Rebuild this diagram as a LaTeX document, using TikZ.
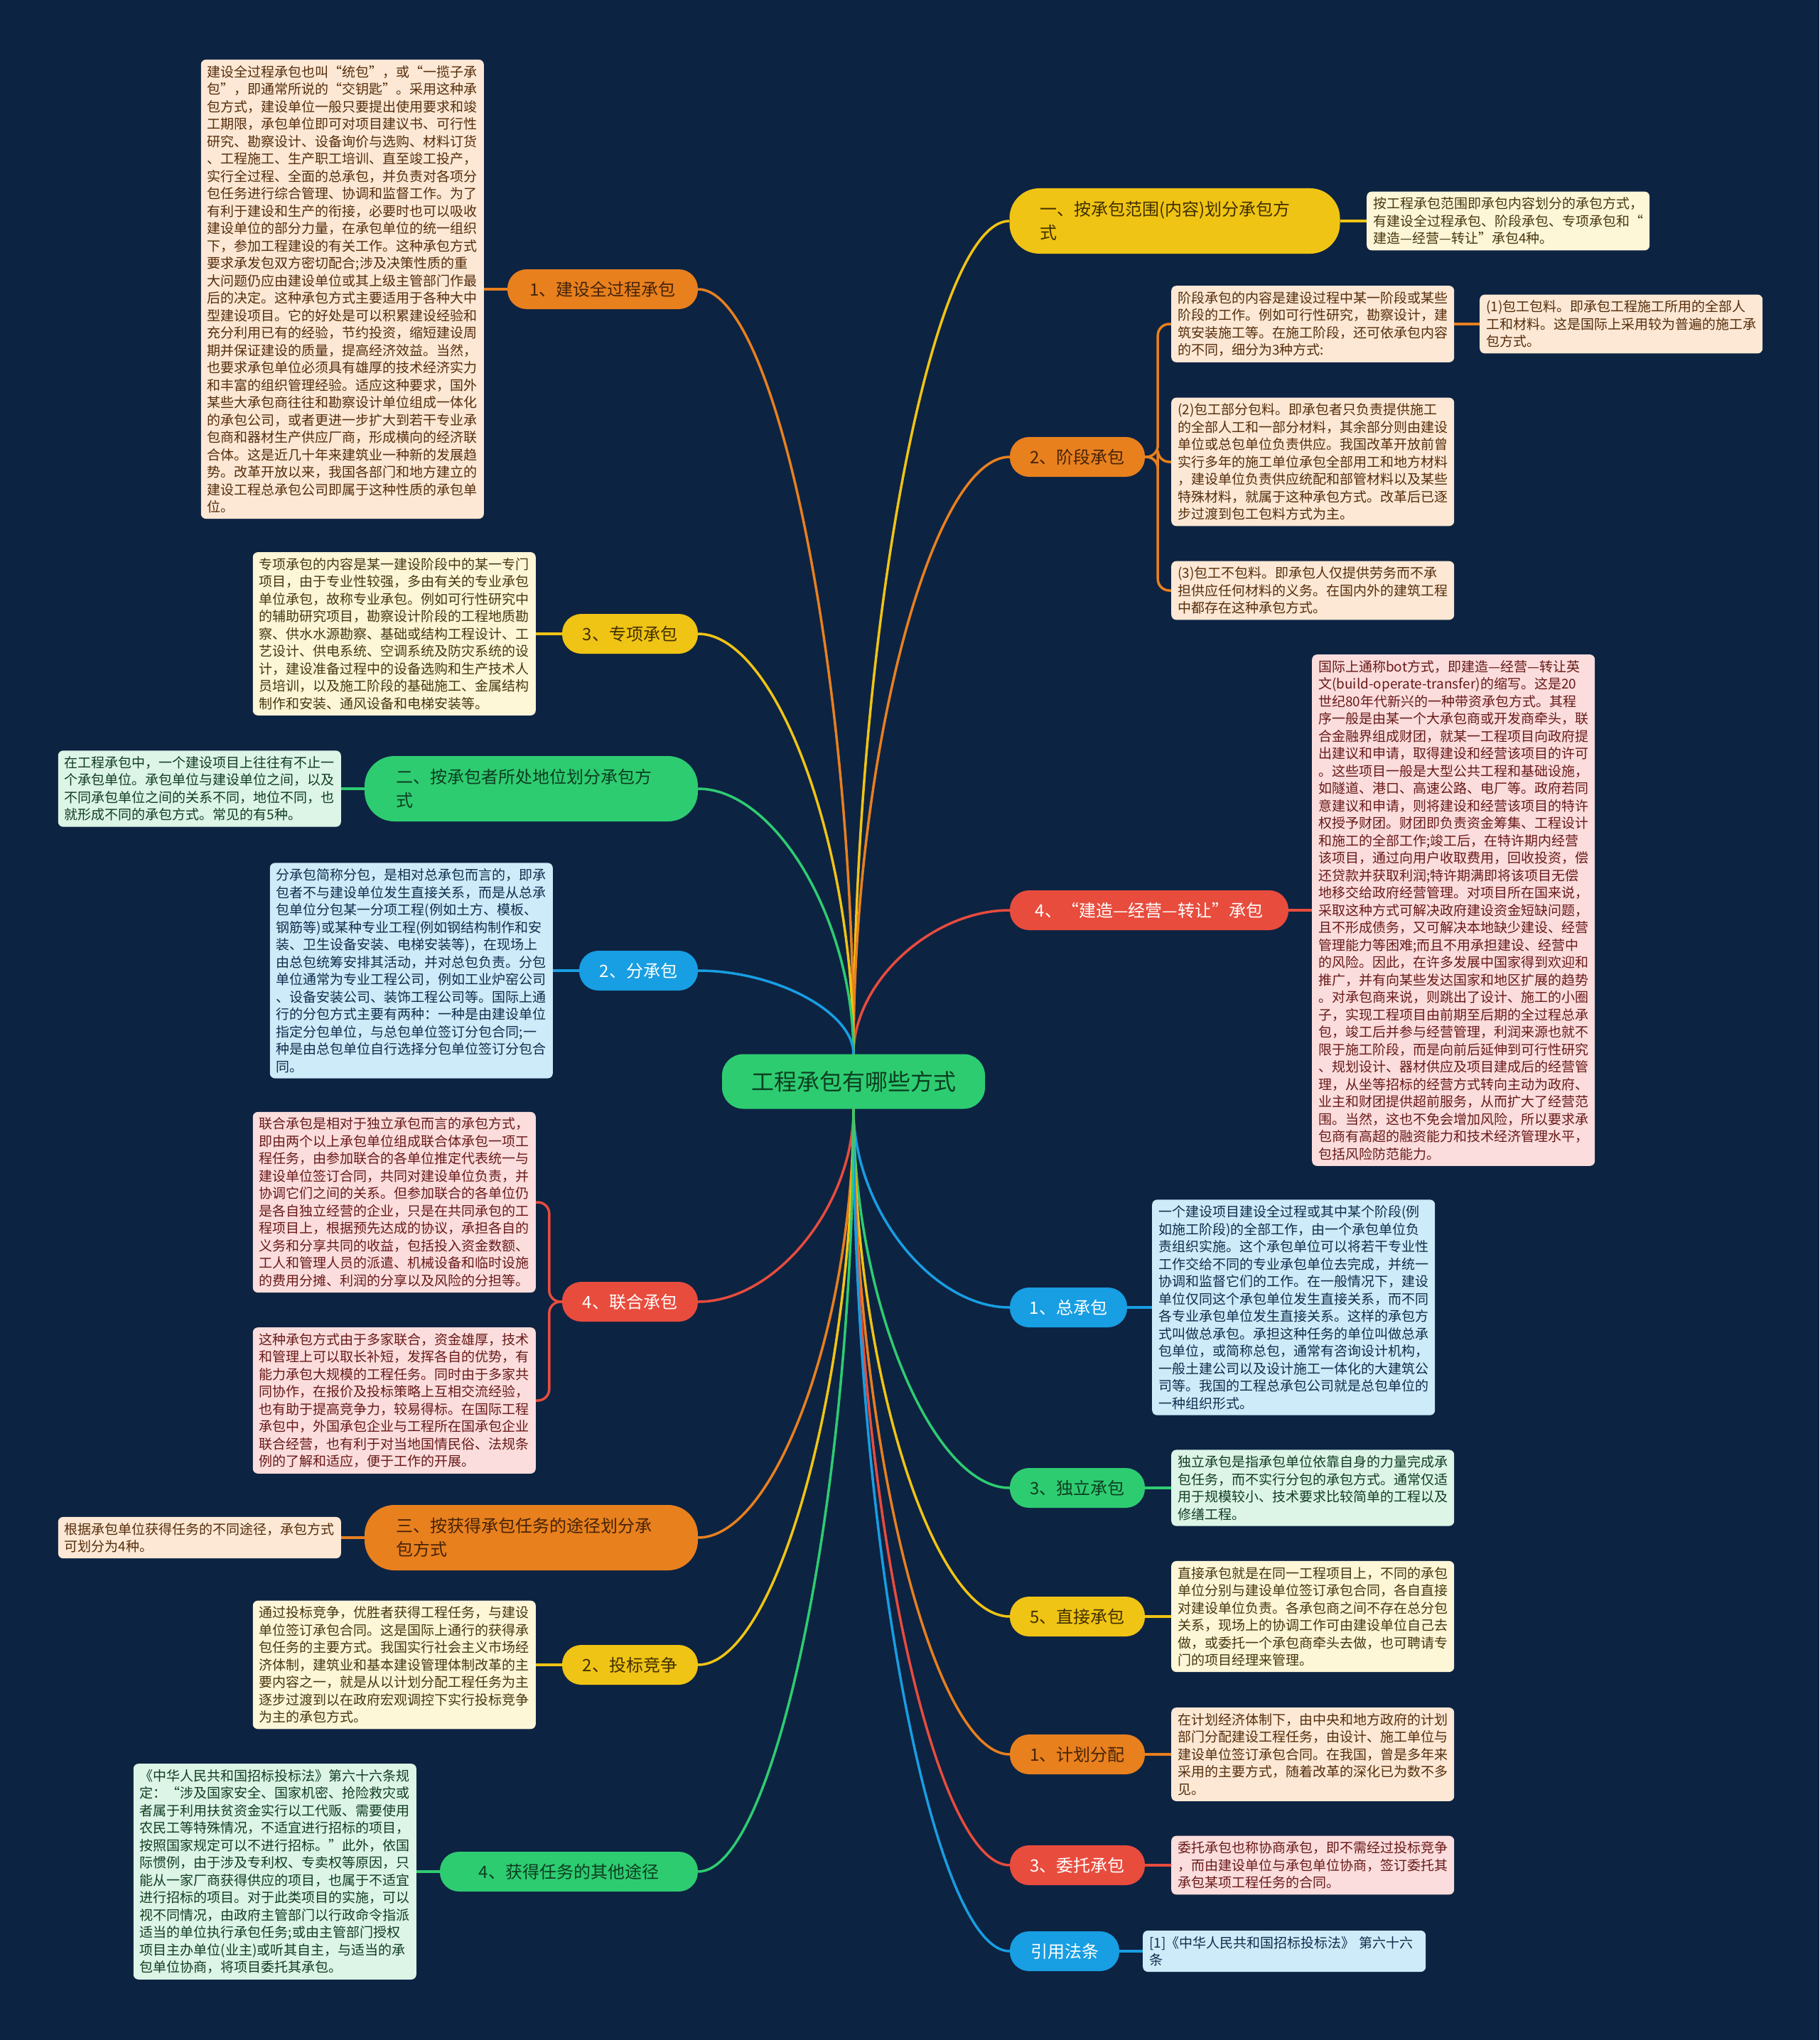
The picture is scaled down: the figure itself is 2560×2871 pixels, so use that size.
\documentclass[tikz,border=0pt]{standalone}
\usepackage{fontspec}
\setmainfont{Noto Sans CJK SC}
\usetikzlibrary{calc}
\definecolor{bgc}{RGB}{13,35,66}
\definecolor{ocol}{RGB}{232,128,30}
\definecolor{ycol}{RGB}{240,196,20}
\definecolor{gcol}{RGB}{46,204,113}
\definecolor{bcol}{RGB}{24,158,226}
\definecolor{rcol}{RGB}{232,76,61}
\definecolor{ofill}{RGB}{252,232,212}
\definecolor{yfill}{RGB}{253,246,215}
\definecolor{gfill}{RGB}{220,245,230}
\definecolor{bfill}{RGB}{205,235,248}
\definecolor{rfill}{RGB}{250,221,220}
\definecolor{otx}{RGB}{85,45,12}
\definecolor{ytx}{RGB}{70,55,15}
\definecolor{gtx}{RGB}{18,60,35}
\definecolor{btx}{RGB}{15,45,75}
\definecolor{rtx}{RGB}{105,25,25}
\definecolor{obtx}{RGB}{70,35,8}
\definecolor{ybtx}{RGB}{65,48,0}
\definecolor{gbtx}{RGB}{12,62,32}
\pgfdeclarelayer{bglayer}
\pgfdeclarelayer{lines}
\pgfsetlayers{bglayer,lines,main}
\begin{document}
\begin{tikzpicture}[x=1pt,y=-1pt,
  cbox/.style={rounded corners=7pt, inner xsep=9pt, inner ysep=8pt, text width=380pt, align=left, font=\fontsize{19}{24.5}\selectfont},
  obox/.style={cbox, fill=ofill, text=otx},
  ybox/.style={cbox, fill=yfill, text=ytx},
  gbox/.style={cbox, fill=gfill, text=gtx},
  bbox/.style={cbox, fill=bfill, text=btx},
  rbox/.style={cbox, fill=rfill, text=rtx},
  brn/.style={rounded corners=27pt, minimum height=56pt, inner xsep=0pt, inner ysep=0pt, font=\fontsize{24}{28}\selectfont},
  bigbr/.style={rounded corners=42pt, minimum height=92pt, inner ysep=0pt, text width=380pt, align=left, font=\fontsize{24}{33}\selectfont},
  obr/.style={fill=ocol, text=obtx},
  ybr/.style={fill=ycol, text=ybtx},
  gbr/.style={fill=gcol, text=gbtx},
  bbr/.style={fill=bcol, text=white},
  rbr/.style={fill=rcol, text=white},
  bl/.style={line width=3.5pt, to path={.. controls ($(\tikztostart)!0.5!(\tikztostart |- \tikztotarget)$) and ($(\tikztotarget)!0.5!(\tikztostart |- \tikztotarget)$) .. (\tikztotarget)}},
  cl/.style={line width=3.5pt},
  bracket/.style={line width=3.5pt, rounded corners=16pt}
]
\begin{pgfonlayer}{bglayer}
\fill[bgc] (0,0) rectangle (2560,2871);
\end{pgfonlayer}
\useasboundingbox (0,0) rectangle (2560,2871);

% centre
\node[fill=gcol, text=gbtx, rounded corners=30pt, minimum width=370pt, minimum height=77pt, font=\fontsize{32}{38}\selectfont] (c) at (1201,1522) {工程承包有哪些方式};

% right branches
\node[bigbr, ybr, inner xsep=42.5pt] (b1) at (1653,311) {一、按承包范围(内容)划分承包方\\式};
\node[brn, obr, minimum width=190pt] (b2) at (1516,643) {2、阶段承包};
\node[brn, rbr, minimum width=392pt] (b3) at (1617,1281) {4、“建造—经营—转让”承包};
\node[brn, bbr, minimum width=165pt] (b4) at (1503.5,1840) {1、总承包};
\node[brn, gbr, minimum width=190pt] (b5) at (1516,2094) {3、独立承包};
\node[brn, ybr, minimum width=190pt] (b6) at (1516,2275) {5、直接承包};
\node[brn, obr, minimum width=190pt] (b7) at (1516,2469) {1、计划分配};
\node[brn, rbr, minimum width=190pt] (b8) at (1516,2625) {3、委托承包};
\node[brn, bbr, minimum width=154pt] (b9) at (1498,2746) {引用法条};

% left branches
\node[brn, obr, minimum width=268pt] (a1) at (848,407) {1、建设全过程承包};
\node[brn, ybr, minimum width=191pt] (a2) at (886.5,892) {3、专项承包};
\node[bigbr, gbr, inner xsep=44.5pt] (a3) at (747.5,1110) {二、按承包者所处地位划分承包方\\式};
\node[brn, bbr, minimum width=167pt] (a4) at (898.5,1366) {2、分承包};
\node[brn, rbr, minimum width=191pt] (a5) at (886.5,1832) {4、联合承包};
\node[bigbr, obr, inner xsep=44.5pt] (a6) at (747.5,2164) {三、按获得承包任务的途径划分承\\包方式};
\node[brn, ybr, minimum width=191pt] (a7) at (886.5,2343) {2、投标竞争};
\node[brn, gbr, minimum width=363pt] (a8) at (800.5,2634) {4、获得任务的其他途径};

% right detail boxes
\node[ybox, anchor=west] (d1) at (1923,311) {按工程承包范围即承包内容划分的承包方式，\\有建设全过程承包、阶段承包、专项承包和“\\建造—经营—转让”承包4种。};
\node[obox, anchor=west] (d2) at (1648,456) {阶段承包的内容是建设过程中某一阶段或某些\\阶段的工作。例如可行性研究，勘察设计，建\\筑安装施工等。在施工阶段，还可依承包内容\\的不同，细分为3种方式:};
\node[obox, anchor=west] (d2a) at (2082,456) {(1)包工包料。即承包工程施工所用的全部人\\工和材料。这是国际上采用较为普遍的施工承\\包方式。};
\node[obox, anchor=west] (d3) at (1648,650) {(2)包工部分包料。即承包者只负责提供施工\\的全部人工和一部分材料，其余部分则由建设\\单位或总包单位负责供应。我国改革开放前曾\\实行多年的施工单位承包全部用工和地方材料\\，建设单位负责供应统配和部管材料以及某些\\特殊材料，就属于这种承包方式。改革后已逐\\步过渡到包工包料方式为主。};
\node[obox, anchor=west] (d4) at (1648,831) {(3)包工不包料。即承包人仅提供劳务而不承\\担供应任何材料的义务。在国内外的建筑工程\\中都存在这种承包方式。};
\node[rbox, anchor=west] (d5) at (1846,1281) {国际上通称bot方式，即建造—经营—转让英\\文(build-operate-transfer)的缩写。这是20\\世纪80年代新兴的一种带资承包方式。其程\\序一般是由某一个大承包商或开发商牵头，联\\合金融界组成财团，就某一工程项目向政府提\\出建议和申请，取得建设和经营该项目的许可\\。这些项目一般是大型公共工程和基础设施，\\如隧道、港口、高速公路、电厂等。政府若同\\意建议和申请，则将建设和经营该项目的特许\\权授予财团。财团即负责资金筹集、工程设计\\和施工的全部工作;竣工后，在特许期内经营\\该项目，通过向用户收取费用，回收投资，偿\\还贷款并获取利润;特许期满即将该项目无偿\\地移交给政府经营管理。对项目所在国来说，\\采取这种方式可解决政府建设资金短缺问题，\\且不形成债务，又可解决本地缺少建设、经营\\管理能力等困难;而且不用承担建设、经营中\\的风险。因此，在许多发展中国家得到欢迎和\\推广，并有向某些发达国家和地区扩展的趋势\\。对承包商来说，则跳出了设计、施工的小圈\\子，实现工程项目由前期至后期的全过程总承\\包，竣工后并参与经营管理，利润来源也就不\\限于施工阶段，而是向前后延伸到可行性研究\\、规划设计、器材供应及项目建成后的经营管\\理，从坐等招标的经营方式转向主动为政府、\\业主和财团提供超前服务，从而扩大了经营范\\围。当然，这也不免会增加风险，所以要求承\\包商有高超的融资能力和技术经济管理水平，\\包括风险防范能力。};
\node[bbox, anchor=west] (d6) at (1621,1840) {一个建设项目建设全过程或其中某个阶段(例\\如施工阶段)的全部工作，由一个承包单位负\\责组织实施。这个承包单位可以将若干专业性\\工作交给不同的专业承包单位去完成，并统一\\协调和监督它们的工作。在一般情况下，建设\\单位仅同这个承包单位发生直接关系，而不同\\各专业承包单位发生直接关系。这样的承包方\\式叫做总承包。承担这种任务的单位叫做总承\\包单位，或简称总包，通常有咨询设计机构，\\一般土建公司以及设计施工一体化的大建筑公\\司等。我国的工程总承包公司就是总包单位的\\一种组织形式。};
\node[gbox, anchor=west] (d7) at (1648,2094) {独立承包是指承包单位依靠自身的力量完成承\\包任务，而不实行分包的承包方式。通常仅适\\用于规模较小、技术要求比较简单的工程以及\\修缮工程。};
\node[ybox, anchor=west] (d8) at (1648,2275) {直接承包就是在同一工程项目上，不同的承包\\单位分别与建设单位签订承包合同，各自直接\\对建设单位负责。各承包商之间不存在总分包\\关系，现场上的协调工作可由建设单位自己去\\做，或委托一个承包商牵头去做，也可聘请专\\门的项目经理来管理。};
\node[obox, anchor=west] (d9) at (1648,2469) {在计划经济体制下，由中央和地方政府的计划\\部门分配建设工程任务，由设计、施工单位与\\建设单位签订承包合同。在我国，曾是多年来\\采用的主要方式，随着改革的深化已为数不多\\见。};
\node[rbox, anchor=west] (d10) at (1648,2625) {委托承包也称协商承包，即不需经过投标竞争\\，而由建设单位与承包单位协商，签订委托其\\承包某项工程任务的合同。};
\node[bbox, anchor=west] (d11) at (1608,2746) {[1]《中华人民共和国招标投标法》 第六十六\\条};

% left detail boxes
\node[obox, anchor=east] (e1) at (681,407) {建设全过程承包也叫“统包”，或“一揽子承\\包”，即通常所说的“交钥匙”。采用这种承\\包方式，建设单位一般只要提出使用要求和竣\\工期限，承包单位即可对项目建议书、可行性\\研究、勘察设计、设备询价与选购、材料订货\\、工程施工、生产职工培训、直至竣工投产，\\实行全过程、全面的总承包，并负责对各项分\\包任务进行综合管理、协调和监督工作。为了\\有利于建设和生产的衔接，必要时也可以吸收\\建设单位的部分力量，在承包单位的统一组织\\下，参加工程建设的有关工作。这种承包方式\\要求承发包双方密切配合;涉及决策性质的重\\大问题仍应由建设单位或其上级主管部门作最\\后的决定。这种承包方式主要适用于各种大中\\型建设项目。它的好处是可以积累建设经验和\\充分利用已有的经验，节约投资，缩短建设周\\期并保证建设的质量，提高经济效益。当然，\\也要求承包单位必须具有雄厚的技术经济实力\\和丰富的组织管理经验。适应这种要求，国外\\某些大承包商往往和勘察设计单位组成一体化\\的承包公司，或者更进一步扩大到若干专业承\\包商和器材生产供应厂商，形成横向的经济联\\合体。这是近几十年来建筑业一种新的发展趋\\势。改革开放以来，我国各部门和地方建立的\\建设工程总承包公司即属于这种性质的承包单\\位。};
\node[ybox, anchor=east] (e2) at (754,892) {专项承包的内容是某一建设阶段中的某一专门\\项目，由于专业性较强，多由有关的专业承包\\单位承包，故称专业承包。例如可行性研究中\\的辅助研究项目，勘察设计阶段的工程地质勘\\察、供水水源勘察、基础或结构工程设计、工\\艺设计、供电系统、空调系统及防灾系统的设\\计，建设准备过程中的设备选购和生产技术人\\员培训，以及施工阶段的基础施工、金属结构\\制作和安装、通风设备和电梯安装等。};
\node[gbox, anchor=east] (e3) at (480,1110) {在工程承包中，一个建设项目上往往有不止一\\个承包单位。承包单位与建设单位之间，以及\\不同承包单位之间的关系不同，地位不同，也\\就形成不同的承包方式。常见的有5种。};
\node[bbox, anchor=east] (e4) at (778,1366) {分承包简称分包，是相对总承包而言的，即承\\包者不与建设单位发生直接关系，而是从总承\\包单位分包某一分项工程(例如土方、模板、\\钢筋等)或某种专业工程(例如钢结构制作和安\\装、卫生设备安装、电梯安装等)，在现场上\\由总包统筹安排其活动，并对总包负责。分包\\单位通常为专业工程公司，例如工业炉窑公司\\、设备安装公司、装饰工程公司等。国际上通\\行的分包方式主要有两种：一种是由建设单位\\指定分包单位，与总包单位签订分包合同;一\\种是由总包单位自行选择分包单位签订分包合\\同。};
\node[rbox, anchor=east] (e5) at (754,1692) {联合承包是相对于独立承包而言的承包方式，\\即由两个以上承包单位组成联合体承包一项工\\程任务，由参加联合的各单位推定代表统一与\\建设单位签订合同，共同对建设单位负责，并\\协调它们之间的关系。但参加联合的各单位仍\\是各自独立经营的企业，只是在共同承包的工\\程项目上，根据预先达成的协议，承担各自的\\义务和分享共同的收益，包括投入资金数额、\\工人和管理人员的派遣、机械设备和临时设施\\的费用分摊、利润的分享以及风险的分担等。};
\node[rbox, anchor=east] (e6) at (754,1971) {这种承包方式由于多家联合，资金雄厚，技术\\和管理上可以取长补短，发挥各自的优势，有\\能力承包大规模的工程任务。同时由于多家共\\同协作，在报价及投标策略上互相交流经验，\\也有助于提高竞争力，较易得标。在国际工程\\承包中，外国承包企业与工程所在国承包企业\\联合经营，也有利于对当地国情民俗、法规条\\例的了解和适应，便于工作的开展。};
\node[obox, anchor=east] (e7) at (480,2164) {根据承包单位获得任务的不同途径，承包方式\\可划分为4种。};
\node[ybox, anchor=east] (e8) at (754,2343) {通过投标竞争，优胜者获得工程任务，与建设\\单位签订承包合同。这是国际上通行的获得承\\包任务的主要方式。我国实行社会主义市场经\\济体制，建筑业和基本建设管理体制改革的主\\要内容之一，就是从以计划分配工程任务为主\\逐步过渡到以在政府宏观调控下实行投标竞争\\为主的承包方式。};
\node[gbox, anchor=east] (e9) at (586,2634) {《中华人民共和国招标投标法》第六十六条规\\定：“涉及国家安全、国家机密、抢险救灾或\\者属于利用扶贫资金实行以工代贩、需要使用\\农民工等特殊情况，不适宜进行招标的项目，\\按照国家规定可以不进行招标。”此外，依国\\际惯例，由于涉及专利权、专卖权等原因，只\\能从一家厂商获得供应的项目，也属于不适宜\\进行招标的项目。对于此类项目的实施，可以\\视不同情况，由政府主管部门以行政命令指派\\适当的单位执行承包任务;或由主管部门授权\\项目主办单位(业主)或听其自主，与适当的承\\包单位协商，将项目委托其承包。};

\begin{pgfonlayer}{lines}
% centre to branches
\draw[bl, ycol] (c.north) to (b1.west);
\draw[bl, ocol] (c.north) to (b2.west);
\draw[bl, rcol] (c.north) to (b3.west);
\draw[bl, bcol] (c.south) to (b4.west);
\draw[bl, gcol] (c.south) to (b5.west);
\draw[bl, ycol] (c.south) to (b6.west);
\draw[bl, ocol] (c.south) to (b7.west);
\draw[bl, rcol] (c.south) to (b8.west);
\draw[bl, bcol] (c.south) to (b9.west);
\draw[bl, ocol] (c.north) to (a1.east);
\draw[bl, ycol] (c.north) to (a2.east);
\draw[bl, gcol] (c.north) to (a3.east);
\draw[bl, bcol] (c.north) to (a4.east);
\draw[bl, rcol] (c.south) to (a5.east);
\draw[bl, ocol] (c.south) to (a6.east);
\draw[bl, ycol] (c.south) to (a7.east);
\draw[bl, gcol] (c.south) to (a8.east);
% branches to details
\draw[cl, ycol] (b1.east) -- (d1.west);
\draw[bracket, ocol] (b2.east) -- ++(18,0) |- (d2.west);
\draw[bracket, ocol] (b2.east) -- ++(18,0) |- (d3.west);
\draw[bracket, ocol] (b2.east) -- ++(18,0) |- (d4.west);
\draw[cl, ocol] (d2.east) -- (d2a.west);
\draw[cl, rcol] (b3.east) -- (d5.west);
\draw[cl, bcol] (b4.east) -- (d6.west);
\draw[cl, gcol] (b5.east) -- (d7.west);
\draw[cl, ycol] (b6.east) -- (d8.west);
\draw[cl, ocol] (b7.east) -- (d9.west);
\draw[cl, rcol] (b8.east) -- (d10.west);
\draw[cl, bcol] (b9.east) -- (d11.west);
\draw[cl, ocol] (a1.west) -- (e1.east);
\draw[cl, ycol] (a2.west) -- (e2.east);
\draw[cl, gcol] (a3.west) -- (e3.east);
\draw[cl, bcol] (a4.west) -- (e4.east);
\draw[bracket, rcol] (a5.west) -- ++(-18,0) |- (e5.east);
\draw[bracket, rcol] (a5.west) -- ++(-18,0) |- (e6.east);
\draw[cl, ocol] (a6.west) -- (e7.east);
\draw[cl, ycol] (a7.west) -- (e8.east);
\draw[cl, gcol] (a8.west) -- (e9.east);
\end{pgfonlayer}
\end{tikzpicture}
\end{document}
